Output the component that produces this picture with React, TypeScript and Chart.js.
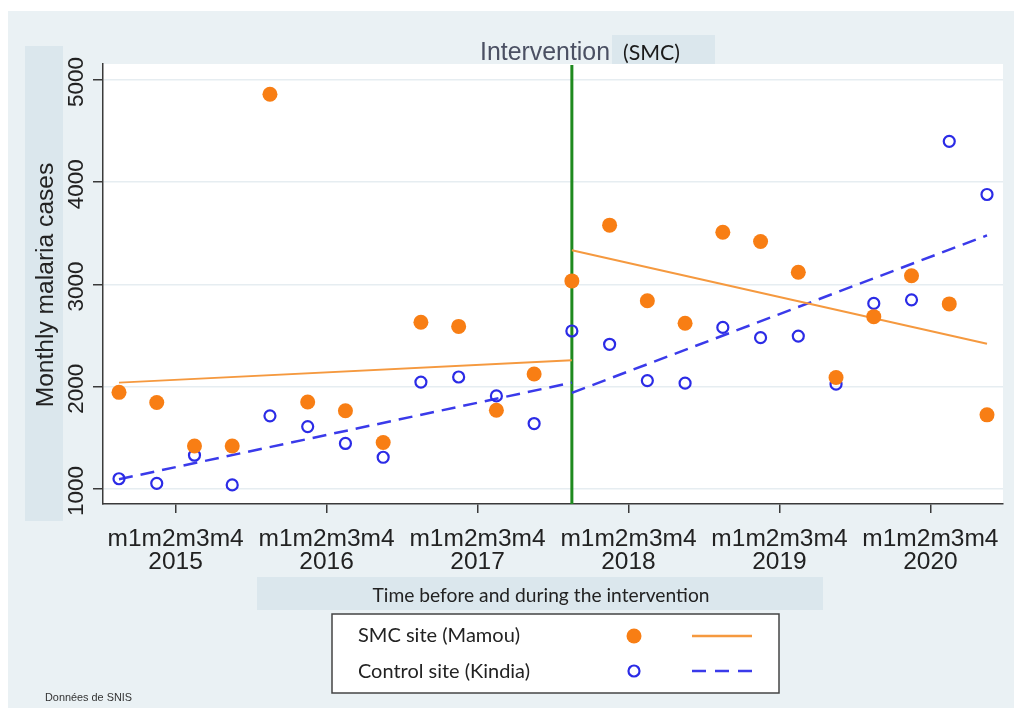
import React, { useEffect, useRef } from "react";
import { Chart, registerables } from "chart.js";

Chart.register(...registerables);

// ---------- data ----------
const periodLabel = "m1m2m3m4";
const years = ["2015", "2016", "2017", "2018", "2019", "2020"];
const yearCenterIndex = [1.5, 5.5, 9.5, 13.5, 17.5, 21.5];
const quarterIndex = [0, 1, 2, 3, 4, 5, 6, 7, 8, 9, 10, 11, 12, 13, 14, 15, 16, 17, 18, 19, 20, 21, 22, 23];
const smcCases = [1945, 1845, 1420, 1420, 4860, 1850, 1765, 1455, 2630, 2590, 1770, 2125, 3035, 3580, 2840, 2620, 3510, 3420, 3120, 2090, 2685, 3085, 2810, 1725];
const controlCases = [1100, 1055, 1330, 1040, 1715, 1610, 1445, 1310, 2045, 2095, 1910, 1640, 2545, 2415, 2060, 2035, 2580, 2480, 2495, 2025, 2815, 2850, 4400, 3880];
const trendPreIndex = [0, 12];
const trendPostIndex = [12, 23];
const smcTrendPre = [2040, 2260];
const smcTrendPost = [3335, 2420];
const controlTrendPre = [1095, 2040];
const controlTrendPost = [1940, 3480];
const interventionIndex = 12;
const yTicks = [1000, 2000, 3000, 4000, 5000];

// ---------- styles ----------
const ORANGE = "#f87e14";
const ORANGE_LINE = "#f5993f";
const BLUE = "#2b2be6";
const BLUE_LINE = "#3a3aea";
const GREEN = "#1f8a1f";
const AXIS = "#3a3a3a";
const GRID = "#e6edf1";
const FIG_BG = "#eaf1f4";
const BOX_BG = "#dbe7ed";
const SANS = "'Liberation Sans', Arial, sans-serif";
const CAL = "Lato, 'Open Sans', sans-serif";

function drawText(
  ctx: CanvasRenderingContext2D,
  text: string,
  x: number,
  y: number,
  font: string,
  color: string,
  align: CanvasTextAlign,
  width?: number
) {
  ctx.save();
  ctx.font = font;
  ctx.fillStyle = color;
  ctx.textBaseline = "alphabetic";
  const w = ctx.measureText(text).width;
  const s = width ? width / w : 1;
  ctx.translate(x, y);
  ctx.scale(s, 1);
  ctx.textAlign = align;
  ctx.fillText(text, 0, 0);
  ctx.restore();
}

const decorPlugin = {
  id: "decor",
  beforeDraw(chart: any) {
    const { ctx, chartArea: a } = chart;
    ctx.save();
    ctx.fillStyle = "#ffffff";
    ctx.fillRect(0, 0, chart.width, chart.height);
    ctx.fillStyle = FIG_BG;
    ctx.fillRect(8, 11, chart.width - 8, chart.height - 11);
    ctx.fillStyle = BOX_BG;
    ctx.fillRect(25, 46, 38, 475);
    ctx.fillRect(257, 577, 566, 33);
    ctx.fillRect(612, 35, 103, 29);
    ctx.fillStyle = "#ffffff";
    ctx.fillRect(a.left, a.top, a.right - a.left, a.bottom - a.top);
    ctx.fillRect(332, 614, 447, 79);
    ctx.strokeStyle = "#444";
    ctx.lineWidth = 1.5;
    ctx.strokeRect(332, 614, 447, 79);
    ctx.restore();
  },
  beforeDatasetsDraw(chart: any) {
    const { ctx, chartArea: a } = chart;
    const x = chart.scales.x.getPixelForValue(interventionIndex);
    ctx.save();
    ctx.strokeStyle = GREEN;
    ctx.lineWidth = 3;
    ctx.beginPath();
    ctx.moveTo(x, a.top + 1);
    ctx.lineTo(x, a.bottom);
    ctx.stroke();
    ctx.restore();
  },
  afterDraw(chart: any) {
    const { ctx } = chart;
    const ys = chart.scales.y;
    // y tick labels (rotated)
    yTicks.forEach((v) => {
      const py = ys.getPixelForValue(v);
      ctx.save();
      ctx.translate(83, py + 2);
      ctx.rotate(-Math.PI / 2);
      ctx.font = `22.5px ${SANS}`;
      ctx.fillStyle = "#222";
      ctx.textAlign = "center";
      ctx.textBaseline = "alphabetic";
      ctx.fillText(String(v), 0, 0);
      ctx.restore();
    });
    // y title
    ctx.save();
    ctx.translate(53, 285);
    ctx.rotate(-Math.PI / 2);
    ctx.font = `24.6px ${SANS}`;
    ctx.fillStyle = "#222";
    ctx.textAlign = "center";
    ctx.textBaseline = "alphabetic";
    ctx.fillText("Monthly malaria cases", 0, 0);
    ctx.restore();
    // title
    drawText(ctx, "Intervention", 480, 60, `25px ${SANS}`, "#4b5063", "left", 130);
    drawText(ctx, "(SMC)", 623, 60, `22px ${CAL}`, "#1a1a1a", "left", 57);
    // x title
    drawText(ctx, "Time before and during the intervention", 541, 602, `20px ${CAL}`, "#222", "center", 337);
    // legend
    drawText(ctx, "SMC site (Mamou)", 358, 642, `20px ${CAL}`, "#222", "left", 162);
    drawText(ctx, "Control site (Kindia)", 358, 678, `20px ${CAL}`, "#222", "left", 172);
    ctx.save();
    ctx.fillStyle = ORANGE;
    ctx.beginPath();
    ctx.arc(634, 636, 7.5, 0, Math.PI * 2);
    ctx.fill();
    ctx.strokeStyle = BLUE;
    ctx.lineWidth = 2.2;
    ctx.beginPath();
    ctx.arc(634, 671, 5.5, 0, Math.PI * 2);
    ctx.stroke();
    ctx.strokeStyle = ORANGE_LINE;
    ctx.lineWidth = 2.5;
    ctx.beginPath();
    ctx.moveTo(692, 636);
    ctx.lineTo(752, 636);
    ctx.stroke();
    ctx.strokeStyle = BLUE_LINE;
    ctx.setLineDash([14, 9]);
    ctx.beginPath();
    ctx.moveTo(692, 671);
    ctx.lineTo(752, 671);
    ctx.stroke();
    ctx.restore();
    // footnote
    drawText(ctx, "Données de SNIS", 45, 701, `11px ${SANS}`, "#333", "left", 87);
  },
};

export default function App() {
  const ref = useRef<HTMLCanvasElement | null>(null);

  useEffect(() => {
    if (!ref.current) return;
    const pts = (vals: number[], idx: number[]) => vals.map((v, k) => ({ x: idx[k], y: v }));
    const chart = new Chart(ref.current, {
      type: "scatter",
      data: {
        datasets: [
          {
            label: "SMC site (Mamou)",
            data: pts(smcCases, quarterIndex),
            pointRadius: 7.5,
            pointHoverRadius: 7.5,
            pointBackgroundColor: ORANGE,
            pointBorderColor: ORANGE,
            pointBorderWidth: 0,
            showLine: false,
          },
          {
            label: "Control site (Kindia)",
            data: pts(controlCases, quarterIndex),
            pointRadius: 5.5,
            pointHoverRadius: 5.5,
            pointBackgroundColor: "rgba(0,0,0,0)",
            pointBorderColor: BLUE,
            pointBorderWidth: 2.2,
            showLine: false,
          },
          {
            label: "SMC trend (before)",
            data: pts(smcTrendPre, trendPreIndex),
            showLine: true,
            pointRadius: 0,
            borderColor: ORANGE_LINE,
            borderWidth: 2,
          },
          {
            label: "SMC trend (during)",
            data: pts(smcTrendPost, trendPostIndex),
            showLine: true,
            pointRadius: 0,
            borderColor: ORANGE_LINE,
            borderWidth: 2,
          },
          {
            label: "Control trend (before)",
            data: pts(controlTrendPre, trendPreIndex),
            showLine: true,
            pointRadius: 0,
            borderColor: BLUE_LINE,
            borderWidth: 2.5,
            borderDash: [14, 8],
          },
          {
            label: "Control trend (during)",
            data: pts(controlTrendPost, trendPostIndex),
            showLine: true,
            pointRadius: 0,
            borderColor: BLUE_LINE,
            borderWidth: 2.5,
            borderDash: [14, 8],
          },
        ],
      },
      options: {
        animation: false,
        responsive: false,
        events: [],
        layout: { padding: { top: 64, right: 11, left: 0, bottom: 0 } },
        plugins: {
          legend: { display: false },
          title: { display: false },
          tooltip: { enabled: false },
        },
        scales: {
          x: {
            type: "linear",
            position: "bottom",
            min: -0.424,
            max: 23.424,
            afterBuildTicks: (s: any) => {
              s.ticks = yearCenterIndex.map((v) => ({ value: v }));
            },
            afterFit: (s: any) => {
              s.height = 204;
            },
            grid: {
              drawOnChartArea: false,
              drawTicks: true,
              tickLength: 9,
              tickColor: AXIS,
              lineWidth: 1.5,
            },
            border: { display: true, color: AXIS, width: 1.5 },
            ticks: {
              autoSkip: false,
              maxRotation: 0,
              minRotation: 0,
              padding: 14,
              color: "#222",
              font: { family: SANS, size: 24.5, lineHeight: 0.96 },
              callback: (_v: any, i: number) => [periodLabel, years[i]],
            },
          },
          y: {
            type: "linear",
            position: "left",
            min: 853,
            max: 5156,
            afterBuildTicks: (s: any) => {
              s.ticks = yTicks.map((v) => ({ value: v }));
            },
            afterFit: (s: any) => {
              s.width = 103;
            },
            ticks: { display: false },
            grid: {
              color: GRID,
              lineWidth: 1.5,
              drawTicks: true,
              tickLength: 10,
              tickColor: AXIS,
            },
            border: { display: true, color: AXIS, width: 1.5 },
          },
        },
      },
      plugins: [decorPlugin],
    } as any);
    return () => chart.destroy();
  }, []);

  return (
    <div style={{ position: "fixed", left: 0, top: 0, width: 1014, height: 708 }}>
      <canvas ref={ref} width={1014} height={708} style={{ display: "block", width: 1014, height: 708 }} />
    </div>
  );
}
